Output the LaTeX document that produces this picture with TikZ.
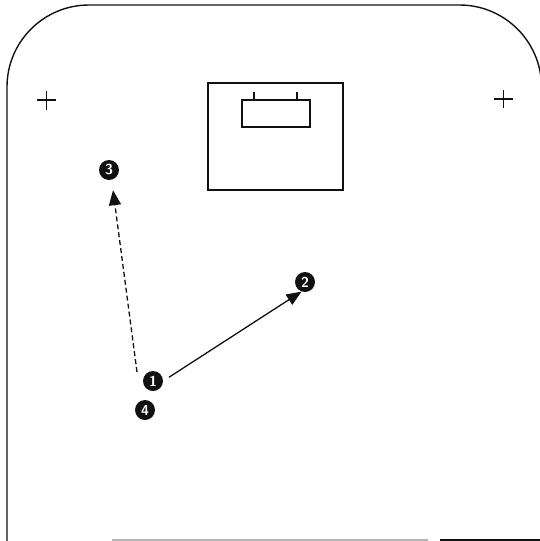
\documentclass[tikz,border=0pt]{standalone}
\usepackage{tikz}
\usetikzlibrary{arrows.meta, positioning, calc}
\definecolor{fldink}{HTML}{111111}
\definecolor{fldgrey}{HTML}{B4B4B4}
\tikzset{
  fldline/.style = {draw=fldink, line width=1.4pt},
  fldbox/.style  = {draw=fldink, line width=1.2pt},
  fldcross/.style = {draw=fldink, line width=1.1pt},
  plyr/.style    = {circle, fill=fldink, text=white, minimum size=20pt,
                    inner sep=0pt, font=\sffamily\bfseries\Large},
  passarr/.style = {draw=fldink, line width=1.3pt,
                    -{Triangle[length=15pt, width=12pt]}},
  runarr/.style  = {draw=fldink, line width=1.3pt, dash pattern=on 5pt off 3pt,
                    -{Triangle[length=15pt, width=12pt]}},
}
\begin{document}
\begin{tikzpicture}[x=1pt, y=-1pt]
    \useasboundingbox (0,0) rectangle (540,541);
    \draw[fldline, rounded corners=82pt] (7,560) -- (7,5) -- (541.5,5) -- (541.5,560);
    \draw[draw=fldgrey, line width=1.2pt] (112,540) -- (428,540);
    \draw[fldline] (440,540) -- (545,540);

    \draw[fldcross] (37,100) -- (56,100) (46.5,91) -- (46.5,110);
    \draw[fldcross] (494,99) -- (513,99) (503.5,90) -- (503.5,108);

    \draw[fldbox] (208,83) rectangle (343,190);
    \draw[fldbox] (242,100) rectangle (310,127);
    \draw[fldbox] (254,92) -- (254,100) (297,92) -- (297,100);

    \node[plyr] (p3) at (109,170) {3};
    \node[plyr] (p2) at (305,282) {2};
    \node[plyr] (p1) at (153,381) {1};
    \node[plyr] (p4) at (145,410) {4};
    \coordinate (runstart) at (137,372);

    \draw[runarr] (runstart) -- ([xshift=4pt, yshift=-10pt]p3.south);
    \draw[passarr, shorten <=7pt] (p1.east) -- (p2.250);
\end{tikzpicture}
\end{document}
